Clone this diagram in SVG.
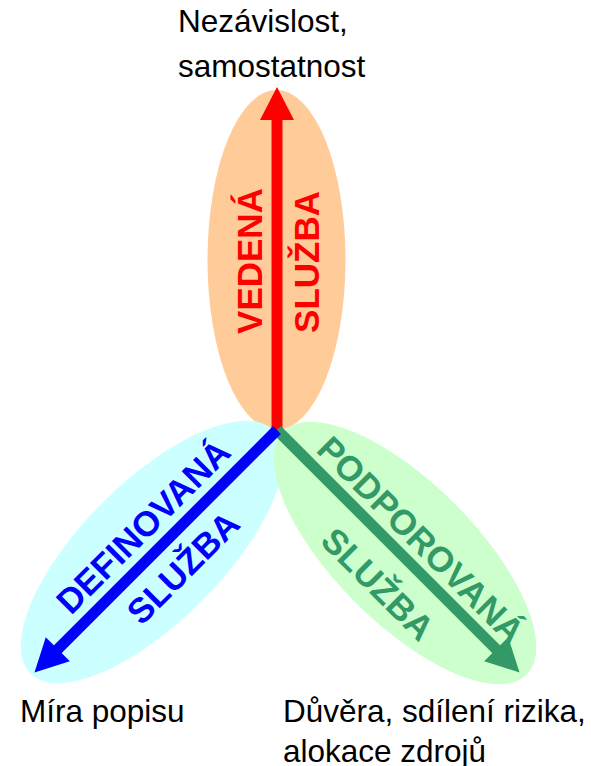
<svg xmlns="http://www.w3.org/2000/svg" width="591" height="766" viewBox="0 0 591 766">
  <style>
    .lbl { font-family: "Liberation Sans", Arial, sans-serif; font-size: 31.5px; fill: #000; }
    .axis { font-family: "Liberation Sans", Arial, sans-serif; font-size: 35px; font-weight: bold; text-anchor: middle; }
    .red { fill: #FF0000; }
    .blue { fill: #0000FF; }
    .green { fill: #339966; }
  </style>
  <rect width="591" height="766" fill="#FFFFFF"/>

  <!-- service areas -->
  <g id="vedena">
    <ellipse cx="276.5" cy="260" rx="69" ry="170" fill="#FFCC99"/>
  </g>
  <g id="definovana">
    <ellipse cx="152" cy="552" rx="70" ry="172" fill="#CCFFFF" transform="rotate(45 152 552)"/>
  </g>
  <g id="podporovana">
    <ellipse cx="405" cy="553" rx="70" ry="172" fill="#CCFFCC" transform="rotate(-45 405 553)"/>
  </g>

  <!-- axis labels -->
  <g id="vedena-text">
    <text class="axis red" transform="translate(262 261) rotate(-90)">VEDENÁ</text>
    <text class="axis red" transform="translate(318.5 262) rotate(-90)">SLUŽBA</text>
  </g>
  <g id="definovana-text">
    <text class="axis blue" transform="translate(151.8 535.2) rotate(-45)">DEFINOVANÁ</text>
    <text class="axis blue" transform="translate(191.8 576.2) rotate(-45)">SLUŽBA</text>
  </g>
  <g id="podporovana-text">
    <text class="axis green" transform="translate(412.3 548.5) rotate(45)">PODPOROVANÁ</text>
    <text class="axis green" transform="translate(369.3 592.8) rotate(45)">SLUŽBA</text>
  </g>

  <!-- axes from the common origin -->
  <g id="connectors">
    <g transform="translate(277 430)">
      <g class="red">
        <rect x="-5.5" y="-312" width="11" height="312"/>
        <polygon points="0,-343 17,-310 -17,-310"/>
      </g>
      <g class="green" transform="rotate(135)">
        <rect x="-5.5" y="-312" width="11" height="312"/>
        <polygon points="0,-343 17,-310 -17,-310"/>
      </g>
      <g class="blue" transform="rotate(-135)">
        <rect x="-5.5" y="-312" width="11" height="312"/>
        <polygon points="0,-343 17,-310 -17,-310"/>
      </g>
    </g>
  </g>

  <!-- end labels -->
  <g id="labels">
    <text class="lbl" x="178" y="32">Nezávislost,</text>
    <text class="lbl" x="178" y="77">samostatnost</text>
    <text class="lbl" x="20" y="722">Míra popisu</text>
    <text class="lbl" x="283" y="722">Důvěra, sdílení rizika,</text>
    <text class="lbl" x="283" y="762">alokace zdrojů</text>
  </g>
</svg>
